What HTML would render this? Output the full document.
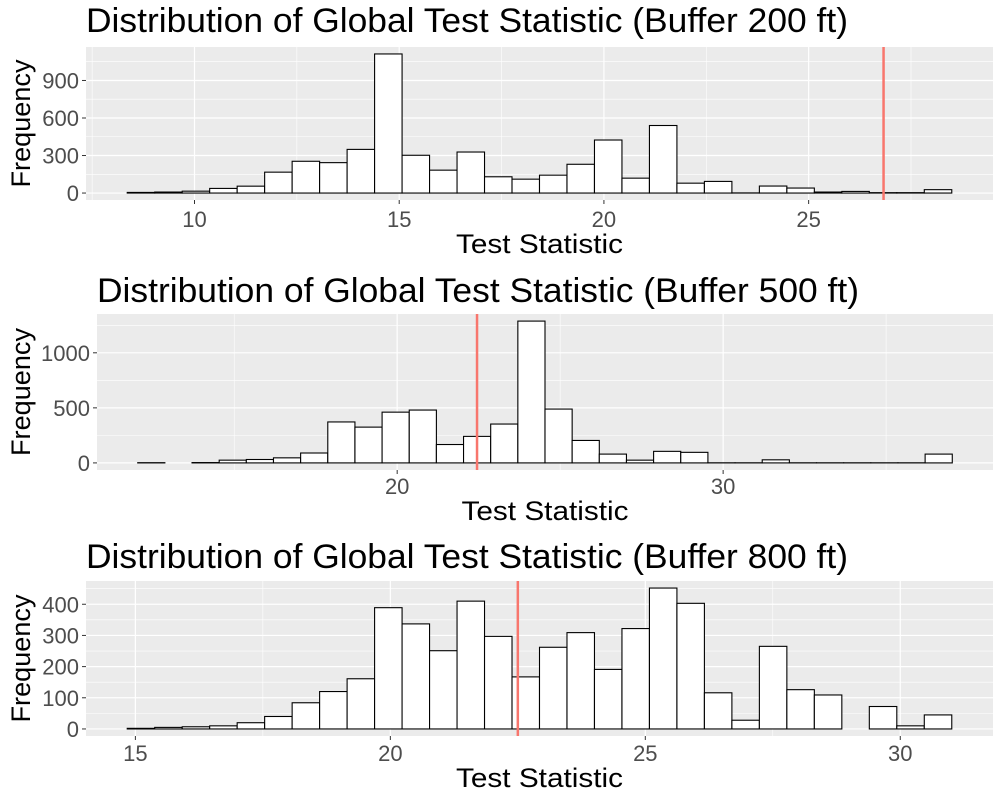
<!DOCTYPE html>
<html><head><meta charset="utf-8"><style>
body{margin:0;background:#fff;}
svg{display:block;font-family:"Liberation Sans",sans-serif;}
</style></head><body>
<svg id="chart" width="1000" height="800" viewBox="0 0 1000 800"></svg>
<script>
const counts200 = [5,8,15,37,55,167,254,243,349,1112,302,183,328,130,111,143,230,424,119,540,79,93,1,56,40,8,13,3,3,27];
const counts500 = [2,0,3,25,31,46,90,372,325,461,480,167,241,353,1288,489,204,80,25,105,96,1,1,28,1,1,1,1,1,80];
const counts800 = [2,5,7,10,20,40,84,120,161,389,337,251,410,297,167,262,309,191,322,452,403,116,28,265,126,109,0,72,10,45];
const binStart = [8.357, 12.04, 14.84];
const binWidth = [0.6713, 0.833, 0.539];
const observed = [26.83, 22.45, 22.5];
const titles = ["Distribution of Global Test Statistic (Buffer 200 ft)","Distribution of Global Test Statistic (Buffer 500 ft)","Distribution of Global Test Statistic (Buffer 800 ft)"];
const xTicks200 = [10,15,20,25], xMinor200 = [7.5,12.5,17.5,22.5,27.5];
const xTicks500 = [20,30], xMinor500 = [15,25,35];
const xTicks800 = [15,20,25,30], xMinor800 = [17.5,22.5,27.5];
const yTicks200 = [0,300,600,900], yMinor200 = [150,450,750,1050];
const yTicks500 = [0,500,1000], yMinor500 = [250,750,1250];
const yTicks800 = [0,100,200,300,400], yMinor800 = [50,150,250,350,450];

const svg = document.getElementById('chart');
const NS = 'http://www.w3.org/2000/svg';
function mk(tag, attrs, parent){const e=document.createElementNS(NS,tag);for(const k in attrs)e.setAttribute(k,attrs[k]);(parent||svg).appendChild(e);return e;}

const panels = [
 {counts:counts200, xt:xTicks200, xm:xMinor200, yt:yTicks200, ym:yMinor200, top:47, bottom:200, titleY:32, ticky:227, axy:253},
 {counts:counts500, xt:xTicks500, xm:xMinor500, yt:yTicks500, ym:yMinor500, top:314, bottom:470, titleY:302, ticky:494, axy:520},
 {counts:counts800, xt:xTicks800, xm:xMinor800, yt:yTicks800, ym:yMinor800, top:581, bottom:736, titleY:568, ticky:761, axy:787}
];
const lefts=[86,97,86], right=993;

panels.forEach((p,i)=>{
  const c=p.counts, n=c.length, s=binStart[i], w=binWidth[i];
  const dmin=s, dmax=s+n*w, ex=(dmax-dmin)*0.05;
  const xlo=dmin-ex, xhi=dmax+ex;
  const cmax=Math.max(...c), ey=cmax*0.05;
  const ylo=-ey, yhi=cmax+ey;
  const L=lefts[i];
  const x=v=>L+(v-xlo)/(xhi-xlo)*(right-L);
  const y=v=>p.bottom-(v-ylo)/(yhi-ylo)*(p.bottom-p.top);
  const g=mk('g',{});
  
  
  const bg=mk('rect',{x:L,y:p.top,width:right-L,height:p.bottom-p.top,fill:'#ebebeb'},g);
  
  
  p.xm.forEach(v=>{if(x(v)>L&&x(v)<right){const l=mk('line',{x1:x(v),x2:x(v),y1:p.top,y2:p.bottom,stroke:'#fff','stroke-width':0.6},g);}});
  p.ym.forEach(v=>{if(y(v)>p.top){const l=mk('line',{x1:L,x2:right,y1:y(v),y2:y(v),stroke:'#fff','stroke-width':0.6},g);}});
  p.xt.forEach(v=>{const l=mk('line',{x1:x(v),x2:x(v),y1:p.top,y2:p.bottom,stroke:'#fff','stroke-width':1.2},g);
    const t=mk('line',{x1:x(v),x2:x(v),y1:p.bottom,y2:p.bottom+4,stroke:'#333','stroke-width':1},g);
    const tx=mk('text',{x:x(v),y:p.ticky,'text-anchor':'middle','font-size':22,fill:'#4d4d4d'},g);tx.textContent=v;});
  p.yt.forEach(v=>{const l=mk('line',{x1:L,x2:right,y1:y(v),y2:y(v),stroke:'#fff','stroke-width':1.2},g);
    const t=mk('line',{x1:L-4,x2:L,y1:y(v),y2:y(v),stroke:'#333','stroke-width':1},g);
    const tx=mk('text',{x:L-7,y:y(v)+8,'text-anchor':'end','font-size':22,fill:'#4d4d4d'},g);tx.textContent=v;});
  c.forEach((v,k)=>{const x0=x(s+k*w),x1=x(s+(k+1)*w);
    const r=mk('rect',{x:x0,y:y(v),width:x1-x0,height:y(0)-y(v),fill:'#fff',stroke:'#000','stroke-width':1.1},g);
    
    });
  const rl=mk('line',{x1:x(observed[i]),x2:x(observed[i]),y1:p.top,y2:p.bottom,stroke:'#f8766d','stroke-width':2.5},g);
  
  
  const ti=mk('text',{x:L,y:p.titleY,'font-size':34,fill:'#000',textLength:762,lengthAdjust:'spacingAndGlyphs'},g);ti.textContent=titles[i];
  
  
  const xa=mk('text',{x:(L+right)/2,y:p.axy,'text-anchor':'middle','font-size':27,fill:'#000',textLength:167,lengthAdjust:'spacingAndGlyphs'},g);xa.textContent='Test Statistic';
  
  
  const cy=(p.top+p.bottom)/2;
  const ya=mk('text',{x:30,y:cy,'text-anchor':'middle','font-size':27,fill:'#000',textLength:128,lengthAdjust:'spacingAndGlyphs',transform:'rotate(-90 30 '+cy+')'},g);ya.textContent='Frequency';
  
  
});
</script>
</body></html>
